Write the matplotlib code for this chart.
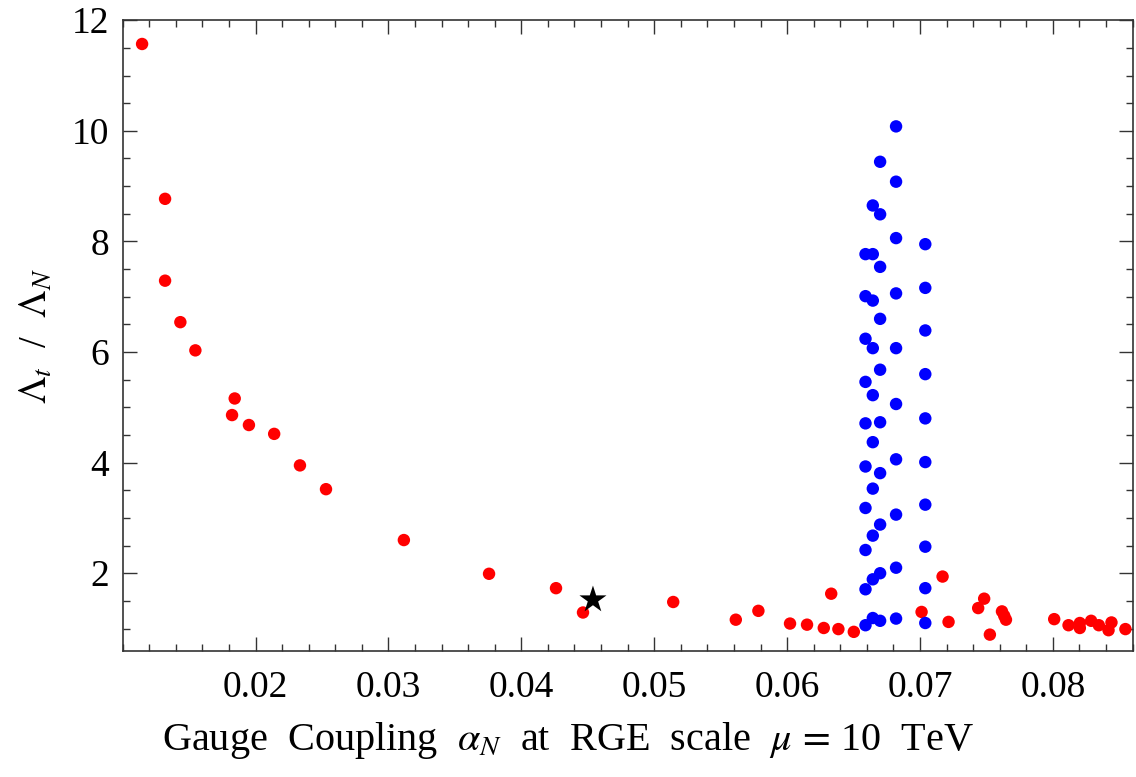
import matplotlib
matplotlib.use("Agg")
import matplotlib.pyplot as plt
from matplotlib.ticker import MultipleLocator

# red points (coupling, ratio)
red_x = [0.01146, 0.01319, 0.01319, 0.01434, 0.01547, 0.01843, 0.01823, 0.0195, 0.0214,
         0.02334, 0.0253, 0.03116, 0.03757, 0.04261, 0.04464, 0.05143, 0.05614, 0.05784,
         0.06022, 0.0615, 0.06276, 0.06386, 0.06502, 0.06332, 0.0717, 0.07012, 0.07215,
         0.07483, 0.07438, 0.07526, 0.07617, 0.07634, 0.07647, 0.0801, 0.08118, 0.08203,
         0.08203, 0.08288, 0.08346, 0.08419, 0.08441, 0.08546]
red_y = [11.57, 8.77, 7.29, 6.54, 6.03, 5.16, 4.86, 4.68, 4.52,
         3.95, 3.52, 2.60, 1.99, 1.73, 1.29, 1.48, 1.16, 1.32,
         1.09, 1.07, 1.01, 0.99, 0.94, 1.63, 1.94, 1.30, 1.12,
         1.54, 1.37, 0.89, 1.31, 1.23, 1.16, 1.17, 1.06, 1.10,
         1.01, 1.14, 1.06, 0.97, 1.11, 0.99]

# blue points, five columns
blue_cols = [0.0659, 0.06645, 0.0670, 0.0682, 0.0704]
blue_vals = [
    [7.77, 7.01, 6.24, 5.46, 4.71, 3.93, 3.18, 2.42, 1.71, 1.06],
    [8.65, 7.77, 6.93, 6.07, 5.22, 4.37, 3.53, 2.68, 1.89, 1.19],
    [9.44, 8.49, 7.54, 6.60, 5.68, 4.73, 3.81, 2.88, 2.00, 1.14],
    [10.08, 9.08, 8.06, 7.06, 6.07, 5.06, 4.06, 3.06, 2.10, 1.18],
    [7.95, 7.16, 6.39, 5.60, 4.80, 4.01, 3.24, 2.48, 1.73, 1.10],
]

star_x, star_y = 0.04539, 1.52

plt.rcParams['font.family'] = 'Liberation Serif'
plt.rcParams['mathtext.fontset'] = 'stix'

fig = plt.figure(figsize=(11.36, 7.77), dpi=100)
ax = fig.add_axes([0.108, 0.1626, 0.889, 0.8114])

ax.scatter(red_x, red_y, s=80, c='#ff0000', edgecolors='none', zorder=3)
for cx, vals in zip(blue_cols, blue_vals):
    ax.scatter([cx] * len(vals), vals, s=80, c='#0000ff', edgecolors='none', zorder=3)
ax.scatter([star_x], [star_y], marker='*', s=420, c='black', edgecolors='none', zorder=4)

ax.set_xlim(0.0100, 0.0860)
ax.set_ylim(0.60, 12)
ax.xaxis.set_minor_locator(MultipleLocator(0.002))
ax.yaxis.set_minor_locator(MultipleLocator(0.5))
ax.set_xticks([0.02, 0.03, 0.04, 0.05, 0.06, 0.07, 0.08])
ax.set_xticklabels(['0.02', '0.03', '0.04', '0.05', '0.06', '0.07', '0.08'])
ax.set_yticks([2, 4, 6, 8, 10, 12])

ax.tick_params(which='both', direction='in', top=True, right=True, colors='#333333',
               labelcolor='black', labelsize=27, width=1)
ax.tick_params(which='major', length=10)
ax.tick_params(axis='x', which='major', pad=14)
ax.tick_params(axis='y', which='major', pad=10)
ax.tick_params(which='minor', length=5)
for sp in ax.spines.values():
    sp.set_color('#333333')
    sp.set_linewidth(1.2)

# x label is centred on the whole image, not on the axes
fig.text(0.5, 0.047, r'Gauge  Coupling  $\alpha_N$  at  RGE  scale  $\mu\,=\,$10  TeV',
         fontsize=29, ha='center', va='center')
ax.set_ylabel(r'$\Lambda_t$  /  $\Lambda_N$', fontsize=28, labelpad=12)

fig.savefig('out.png', dpi=100)
